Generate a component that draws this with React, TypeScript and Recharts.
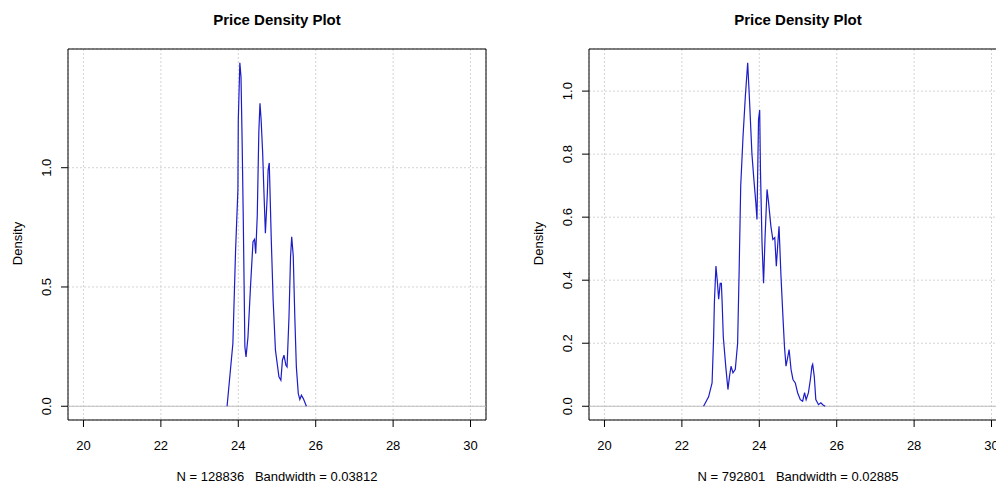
import React from 'react'
import { LineChart, Line, XAxis, YAxis, CartesianGrid, ReferenceLine, ReferenceArea } from 'recharts'

// price grid and density estimates
const leftPrice = [23.71, 23.86, 23.93, 23.99, 24.0, 24.04, 24.07, 24.1, 24.13, 24.17, 24.2, 24.25, 24.32, 24.38, 24.42, 24.45, 24.49, 24.53, 24.56, 24.59, 24.63, 24.66, 24.7, 24.75, 24.77, 24.8, 24.81, 24.85, 24.9, 24.96, 25.05, 25.1, 25.14, 25.18, 25.23, 25.26, 25.31, 25.35, 25.38, 25.42, 25.46, 25.5, 25.55, 25.59, 25.63, 25.68, 25.76]
const leftDensity = [0, 0.263, 0.655, 0.907, 1.2, 1.44, 1.38, 1.1, 0.77, 0.25, 0.207, 0.29, 0.515, 0.69, 0.7, 0.64, 0.8, 1.146, 1.27, 1.2, 1.06, 0.91, 0.725, 0.89, 0.99, 1.02, 0.96, 0.71, 0.445, 0.235, 0.123, 0.109, 0.193, 0.214, 0.172, 0.165, 0.375, 0.627, 0.71, 0.63, 0.375, 0.165, 0.053, 0.028, 0.046, 0.032, 0]

const rightPrice = [22.56, 22.69, 22.78, 22.82, 22.84, 22.88, 22.92, 22.95, 22.99, 23.02, 23.04, 23.07, 23.14, 23.19, 23.23, 23.27, 23.32, 23.38, 23.44, 23.48, 23.52, 23.58, 23.64, 23.7, 23.75, 23.81, 23.86, 23.91, 23.94, 23.98, 24.01, 24.03, 24.07, 24.11, 24.15, 24.2, 24.24, 24.3, 24.35, 24.4, 24.44, 24.48, 24.51, 24.56, 24.61, 24.65, 24.69, 24.74, 24.77, 24.82, 24.87, 24.93, 24.99, 25.06, 25.12, 25.17, 25.21, 25.27, 25.32, 25.36, 25.38, 25.42, 25.46, 25.53, 25.59, 25.64, 25.7]
const rightDensity = [0, 0.03, 0.074, 0.22, 0.33, 0.445, 0.39, 0.34, 0.39, 0.39, 0.33, 0.22, 0.117, 0.053, 0.095, 0.127, 0.106, 0.117, 0.2, 0.434, 0.7, 0.857, 0.984, 1.09, 0.963, 0.8, 0.72, 0.646, 0.593, 0.91, 0.94, 0.75, 0.52, 0.39, 0.54, 0.688, 0.646, 0.571, 0.529, 0.535, 0.444, 0.519, 0.571, 0.413, 0.286, 0.19, 0.127, 0.159, 0.18, 0.117, 0.085, 0.074, 0.043, 0.021, 0.016, 0.043, 0.021, 0.043, 0.085, 0.127, 0.133, 0.095, 0.021, 0.005, 0.011, 0.005, 0]

const xTicks = [20, 22, 24, 26, 28, 30]
const leftYTicks = [0, 0.5, 1.0]
const rightYTicks = [0, 0.2, 0.4, 0.6, 0.8, 1.0]
const leftCaption = 'N = 128836   Bandwidth = 0.03812'
const rightCaption = 'N = 792801   Bandwidth = 0.02885'

const FONT = '"Liberation Sans", Arial, sans-serif'
const X_DOMAIN: [number, number] = [19.6, 30.4]

const XTick = (props: any) => {
  const { x, y, payload } = props
  return (
    <text x={x} y={y + 23} textAnchor="middle" fontSize={13} fontFamily={FONT} fill="#000">
      {payload.value}
    </text>
  )
}

const YTick = (props: any) => {
  const { x, y, payload } = props
  const tx = x - 9.5
  return (
    <text x={tx} y={y} textAnchor="middle" fontSize={13} fontFamily={FONT} fill="#000" transform={`rotate(-90, ${tx}, ${y})`}>
      {payload.value.toFixed(1)}
    </text>
  )
}

interface PanelProps {
  left: number
  marginLeft: number
  price: number[]
  density: number[]
  yTicks: number[]
  caption: string
}

const Panel = ({ left, marginLeft, price, density, yTicks, caption }: PanelProps) => {
  const data = price.map((p, i) => ({ x: p, y: density[i] }))
  const top = Math.max(...density)
  const yDomain: [number, number] = [-0.04 * top, 1.04 * top]
  const width = 520
  const plotLeft = marginLeft + 30
  const center = plotLeft + 209

  return (
    <div style={{ position: 'absolute', left, top: 0, width, height: 486 }}>
      <div style={{ position: 'absolute', left: center - 150, width: 300, top: 10, textAlign: 'center', fontFamily: FONT, fontWeight: 'bold', fontSize: 15, lineHeight: '20px' }}>
        Price Density Plot
      </div>
      <LineChart width={width} height={486} data={data} margin={{ top: 49, right: width - plotLeft - 418, bottom: 36, left: marginLeft }}>
        <CartesianGrid stroke="#d4d4d4" strokeDasharray="2 2" />
        <XAxis dataKey="x" type="number" domain={X_DOMAIN} ticks={xTicks} allowDataOverflow axisLine={false} tickSize={7} tickMargin={0} tickLine={{ stroke: '#000' }} tick={<XTick />} height={30} />
        <YAxis type="number" domain={yDomain} ticks={yTicks} allowDataOverflow axisLine={false} tickSize={7} tickMargin={0} tickLine={{ stroke: '#000' }} tick={<YTick />} width={30} />
        <ReferenceLine y={0} stroke="#bebebe" />
        <Line dataKey="y" type="linear" stroke="#1c1cc8" strokeWidth={1.2} dot={false} isAnimationActive={false} />
        <ReferenceArea x1={X_DOMAIN[0]} x2={X_DOMAIN[1]} y1={yDomain[0]} y2={yDomain[1]} fill="none" stroke="#000" strokeWidth={1} />
      </LineChart>
      <div style={{ position: 'absolute', left: center - 200, width: 400, top: 469, textAlign: 'center', fontFamily: FONT, fontSize: 13, whiteSpace: 'pre' }}>
        {caption}
      </div>
      <div style={{ position: 'absolute', left: plotLeft - 51 - 50, top: 236, width: 100, textAlign: 'center', fontFamily: FONT, fontSize: 13, transform: 'rotate(-90deg)' }}>
        Density
      </div>
    </div>
  )
}

export default function App() {
  return (
    <div style={{ position: 'absolute', left: 0, top: 0, width: 996, height: 486, overflow: 'hidden', background: '#fff' }}>
      <Panel left={0} marginLeft={38} price={leftPrice} density={leftDensity} yTicks={leftYTicks} caption={leftCaption} />
      <Panel left={500} marginLeft={59} price={rightPrice} density={rightDensity} yTicks={rightYTicks} caption={rightCaption} />
    </div>
  )
}
